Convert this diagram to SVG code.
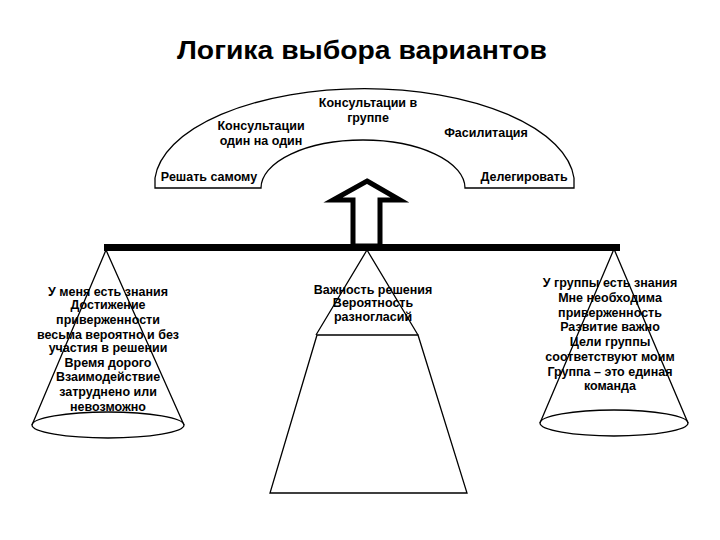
<svg xmlns="http://www.w3.org/2000/svg" width="720" height="540" viewBox="0 0 720 540">
<style>
.t{font-family:"Liberation Sans",Arial,sans-serif;font-weight:bold;font-size:12.5px;fill:#000;text-anchor:middle}
.ttl{font-family:"Liberation Sans",Arial,sans-serif;font-weight:bold;font-size:26px;fill:#000;text-anchor:middle}
.ln{fill:none;stroke:#000;stroke-width:1.3}
</style>
<rect width="720" height="540" fill="#fff"/>
<text class="ttl" x="362" y="59" textLength="370" lengthAdjust="spacingAndGlyphs">Логика выбора вариантов</text>
<g id="arch">
<path class="ln" d="M155,188 L155,178 A210,96 0 0 1 574,178 L574,188 L465,188 A102,48 0 0 0 261,188 Z"/>
<text class="t" x="368" y="107">Консультации в</text>
<text class="t" x="368" y="122">группе</text>
<text class="t" x="261" y="130">Консультации</text>
<text class="t" x="261" y="145">один на один</text>
<text class="t" x="486" y="137">Фасилитация</text>
<text class="t" x="209" y="181">Решать самому</text>
<text class="t" x="524" y="181">Делегировать</text>
</g>
<g id="arrow">
<polygon points="367,181 400,200 380,200 380,246 353,246 353,200 333,200" fill="#fff" stroke="#000" stroke-width="5" stroke-linejoin="miter"/>
</g>
<g id="beam">
<rect x="104" y="244" width="516" height="7" fill="#000"/>
</g>
<g id="left">
<ellipse class="ln" cx="108" cy="425" rx="76" ry="13"/>
<path class="ln" d="M32,425 L106,250 L184,425"/>
<text class="t" x="108" y="296">У меня есть  знания</text>
<text class="t" x="108" y="309">Достижение</text>
<text class="t" x="108" y="324">приверженности</text>
<text class="t" x="108" y="339">весьма вероятно и без</text>
<text class="t" x="108" y="352">участия в решении</text>
<text class="t" x="108" y="367">Время дорого</text>
<text class="t" x="108" y="381">Взаимодействие</text>
<text class="t" x="108" y="396">затруднено или</text>
<text class="t" x="108" y="411">невозможно</text>
</g>
<g id="center">
<path class="ln" d="M316,335 L367,250 L418,335"/>
<path class="ln" d="M317,335 L418,335 L467,493 L270,493 Z" stroke-width="1.6"/>
<text class="t" x="373" y="294">Важность решения</text>
<text class="t" x="373" y="307">Вероятность</text>
<text class="t" x="373" y="321">разногласий</text>
</g>
<g id="right">
<ellipse class="ln" cx="614" cy="423" rx="74" ry="13"/>
<path class="ln" d="M540,423 L614,249 L688,423"/>
<text class="t" x="610" y="287">У группы есть знания</text>
<text class="t" x="610" y="302">Мне необходима</text>
<text class="t" x="610" y="317">приверженность</text>
<text class="t" x="610" y="331">Развитие важно</text>
<text class="t" x="610" y="346">Цели группы</text>
<text class="t" x="610" y="361">соответствуют моим</text>
<text class="t" x="610" y="376">Группа – это единая</text>
<text class="t" x="610" y="390">команда</text>
</g>
</svg>
